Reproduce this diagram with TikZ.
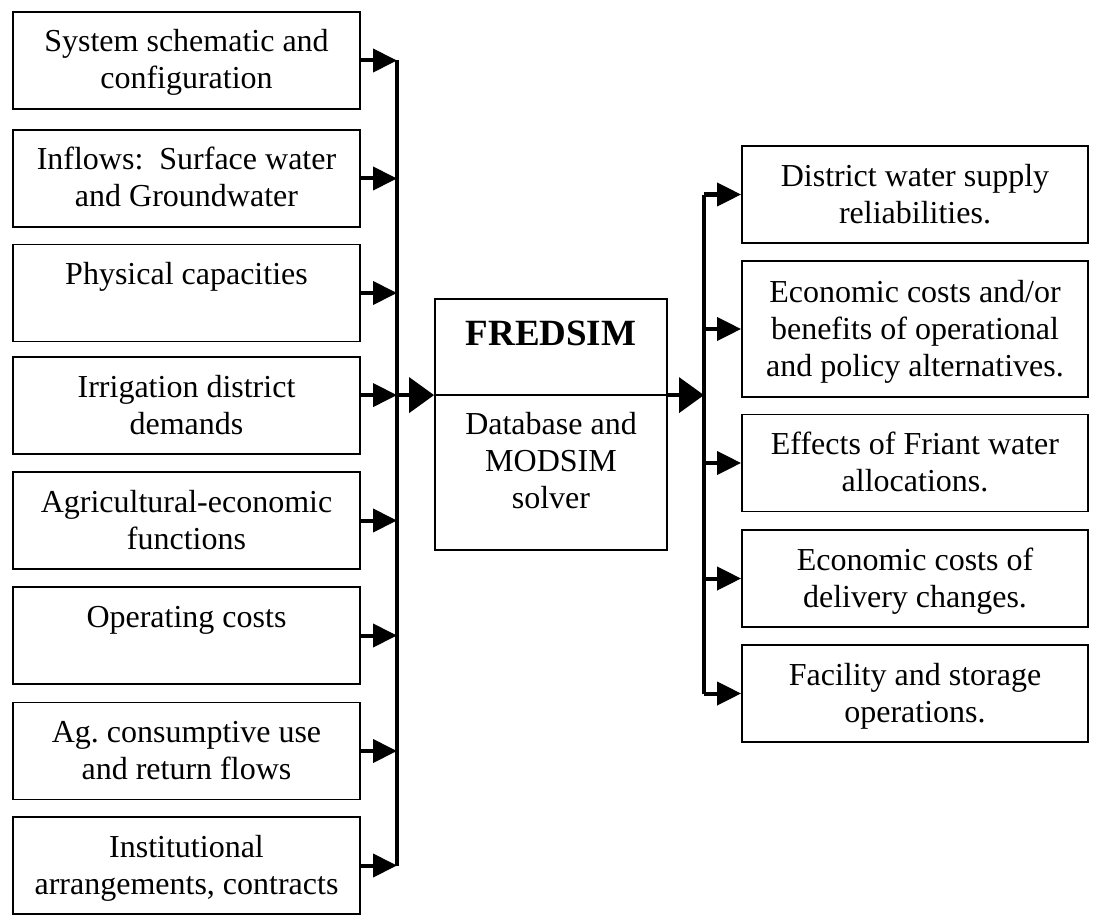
\documentclass[tikz,border=0pt]{standalone}
\usepackage{fontspec}
\setmainfont{Liberation Serif}
\usetikzlibrary{arrows.meta,calc}
% strut giving every text line the same height and depth
\newcommand{\lstrut}{\rule[-8.5pt]{0pt}{37pt}}
\begin{document}
\frenchspacing
\begin{tikzpicture}[x=1pt,y=-1pt,
  box/.style={draw,line width=1.8pt,inner sep=0pt,align=center,
    minimum width=347pt,minimum height=97pt,font=\fontsize{32}{37}\selectfont},
  rbox/.style={box,minimum width=346pt},
  boxtext/.style={inner sep=0pt,align=center,font=\fontsize{32}{37}\selectfont},
  feed/.style={line width=4pt,-{Triangle[length=24pt,width=23pt]}},
  mainfeed/.style={line width=4pt,-{Triangle[length=25pt,width=35pt]}},
  bus/.style={line width=4pt}]
\useasboundingbox (0,0) rectangle (1094,920);

% input boxes
\node[box] (L1) at (186.5,60.5)  {\lstrut System schematic and\\\lstrut configuration};
\node[box] (L2) at (186.5,178.5) {\lstrut Inflows:~ Surface water\\\lstrut and Groundwater};
\node[box] (L3) at (186.5,293)   {\lstrut Physical capacities\\\lstrut};
\node[box] (L4) at (186.5,405.5) {\lstrut Irrigation district\\\lstrut demands};
\node[box] (L5) at (186.5,520.5) {\lstrut Agricultural-economic\\\lstrut functions};
\node[box] (L6) at (186.5,635.5) {\lstrut Operating costs\\\lstrut};
\node[box] (L7) at (186.5,751)   {\lstrut Ag. consumptive use\\\lstrut and return flows};
\node[box] (L8) at (186.5,865.5) {\lstrut Institutional\\\lstrut arrangements, contracts};

% model box
\node[draw,line width=1.8pt,inner sep=0pt,minimum width=232pt,minimum height=251pt] (C) at (551,424.5) {};
\coordinate (cdl) at ($(C.north west)+(0,97)$);
\coordinate (cdr) at ($(C.north east)+(0,97)$);
\draw[line width=1.8pt] (cdl) -- (cdr);
\node[inner sep=0pt,font=\fontsize{37}{40}\selectfont\bfseries,anchor=base] (title) at (551,345) {FREDSIM};
\node[boxtext,anchor=north] (desc) at (551,405.5) {\lstrut Database and\\\lstrut MODSIM\\\lstrut solver};

% output boxes
\node[rbox] (R1) at (915,194.5) {\lstrut District water supply\\\lstrut reliabilities.};
\node[rbox,minimum height=136pt] (R2) at (915,329) {\lstrut Economic costs and/or\\\lstrut benefits of operational\\\lstrut and policy alternatives.};
\node[rbox] (R3) at (915,463)   {\lstrut Effects of Friant water\\\lstrut allocations.};
\node[rbox] (R4) at (915,578.5) {\lstrut Economic costs of\\\lstrut delivery changes.};
\node[rbox] (R5) at (915,693.5) {\lstrut Facility and storage\\\lstrut operations.};

% collecting bus on the input side
\coordinate (lbus) at (397,0);
\draw[bus] (L1.east -| lbus) -- (L8.east -| lbus);
\foreach \i in {1,2,3,5,6,7,8} {
  \draw[feed] (L\i.east) -- (L\i.east -| lbus);
}
\draw[feed] (L4.east |- cdl) -- (cdl -| lbus);
\draw[mainfeed] (cdl -| lbus) -- (cdl);

% distributing bus on the output side
\coordinate (rbus) at (704,0);
\draw[mainfeed] (cdr) -- (cdr -| rbus);
\draw[bus] (R1.west -| rbus) -- (R5.west -| rbus);
\foreach \i in {1,...,5} {
  \draw[feed] (R\i.west -| rbus) -- (R\i.west);
}
\end{tikzpicture}
\end{document}
